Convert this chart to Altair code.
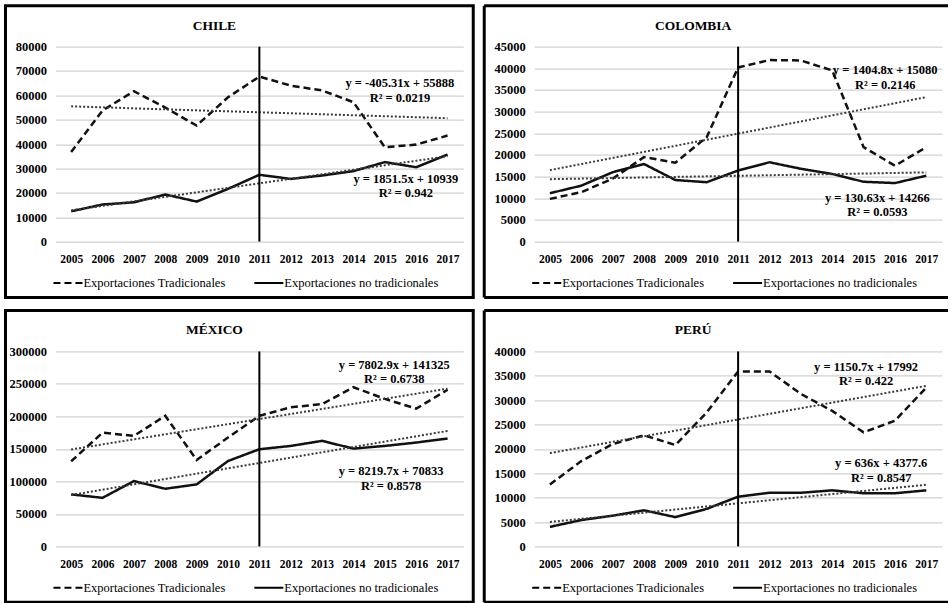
import altair as alt
import pandas as pd

# ---- data -----------------------------------------------------------------
YEARS = [2005, 2006, 2007, 2008, 2009, 2010, 2011, 2012, 2013, 2014, 2015, 2016, 2017]
SERIES = ["Exportaciones Tradicionales", "Exportaciones no tradicionales"]
MARK_YEAR = 2011

CHILE_TRAD = [36700, 53800, 61700, 55000, 47600, 59200, 67700, 64000, 62000, 57200, 38700, 39800, 43500]
CHILE_NOTRAD = [12400, 15200, 16100, 19300, 16400, 21600, 27400, 25700, 27100, 28900, 32600, 30500, 35700]

COLOMBIA_TRAD = [9850, 11400, 14500, 19500, 18200, 24100, 40200, 41900, 41800, 39500, 21800, 17500, 21800]
COLOMBIA_NOTRAD = [11150, 12900, 16000, 17900, 14200, 13700, 16400, 18300, 16800, 15600, 13800, 13500, 15200]

MEXICO_TRAD = [131000, 175000, 170000, 201000, 133000, 167500, 201000, 214000, 219000, 245000, 227000, 212000, 241000]
MEXICO_NOTRAD = [80000, 74700, 100500, 88700, 95400, 131400, 149500, 154600, 162400, 150500, 154600, 159800, 166000]

PERU_TRAD = [12700, 17500, 21000, 22800, 20800, 27500, 35900, 35900, 31300, 27800, 23400, 25800, 32600]
PERU_NOTRAD = [4000, 5400, 6300, 7400, 6000, 7700, 10200, 11000, 11000, 11500, 10900, 10900, 11500]

# linear trends, x = 1 (2005) ... 13 (2017): slope, intercept, R²
CHILE_FITS = [(-405.31, 55888, 0.0219), (1851.5, 10939, 0.942)]
COLOMBIA_FITS = [(1404.8, 15080, 0.2146), (130.63, 14266, 0.0593)]
MEXICO_FITS = [(7802.9, 141325, 0.6738), (8219.7, 70833, 0.8578)]
PERU_FITS = [(1150.7, 17992, 0.422), (636, 4377.6, 0.8547)]

# where each trend equation is written (year, value)
CHILE_LABELS = [(2015.48, 64900), (2015.67, 25700)]
COLOMBIA_LABELS = [(2015.69, 39500), (2015.44, 10100)]
MEXICO_LABELS = [(2015.3, 279900), (2015.2, 116000)]
PERU_LABELS = [(2015.08, 36900), (2015.56, 17100)]

# ---- layout / style --------------------------------------------------------
W, H = 408, 195
FRAME_L, FRAME_R, FRAME_T, FRAME_B = -50, 10, -41, 56
SERIF = "Liberation Serif"
INK = "#111111"
GRID = "#d2d2d2"


def frame_layers(open_right):
    """Black box drawn around a whole panel (axes, title and legend included)."""
    one = pd.DataFrame({"k": [0]})
    if not open_right:
        return [alt.Chart(one).mark_rect(filled=False, stroke="black", strokeWidth=3).encode(
            x=alt.value(FRAME_L), x2=alt.value(W + FRAME_R),
            y=alt.value(FRAME_T), y2=alt.value(H + FRAME_B))]
    right_end = W + 6
    rule = alt.Chart(one).mark_rule(color="black", strokeWidth=3)
    return [
        rule.encode(x=alt.value(FRAME_L), y=alt.value(FRAME_T), y2=alt.value(H + FRAME_B)),
        rule.encode(x=alt.value(FRAME_L), x2=alt.value(right_end), y=alt.value(FRAME_T)),
        rule.encode(x=alt.value(FRAME_L), x2=alt.value(right_end), y=alt.value(H + FRAME_B)),
    ]


def panel(name, trad, notrad, fits, labels, ymax, ystep, open_right=False):
    x_enc = alt.X(
        "year:Q",
        scale=alt.Scale(domain=[2004.5, 2017.5], nice=False, zero=False),
        axis=alt.Axis(values=YEARS, format="d", title=None, grid=False, domain=False,
                      ticks=False, tickSize=0, labelPadding=12, labelFont=SERIF,
                      labelFontSize=11.5, labelFontWeight="bold", labelColor="black",
                      labelFlush=False, labelOverlap=False),
    )
    y_enc = alt.Y(
        "valor:Q",
        scale=alt.Scale(domain=[0, ymax], nice=False, zero=True),
        axis=alt.Axis(values=list(range(0, ymax + 1, ystep)), format="d", title=None,
                      grid=True, gridColor=GRID, gridWidth=1.2, domain=False, ticks=False,
                      tickSize=0, labelPadding=9, labelFont=SERIF, labelFontSize=12.5,
                      labelFontWeight="bold", labelColor="black"),
    )

    lines = pd.DataFrame({
        "year": YEARS * 2,
        "valor": trad + notrad,
        "serie": [SERIES[0]] * len(YEARS) + [SERIES[1]] * len(YEARS),
    })
    series = alt.Chart(lines).mark_line(color=INK, strokeWidth=2.5).encode(
        x=x_enc,
        y=y_enc,
        strokeDash=alt.StrokeDash(
            "serie:N",
            scale=alt.Scale(domain=SERIES, range=[[7, 4], [1, 0]]),
            legend=alt.Legend(title=None, orient="none", legendX=-3, legendY=221,
                              direction="horizontal", symbolType="stroke", symbolSize=841,
                              symbolStrokeWidth=2, symbolStrokeColor="black",
                              labelFont=SERIF, labelFontSize=12.5, labelColor="black",
                              labelOffset=0, columnPadding=24, padding=0),
        ),
    )

    trend_rows = []
    for (slope, intercept, _), serie in zip(fits, SERIES):
        for i in (0, len(YEARS) - 1):
            trend_rows.append({"year": YEARS[i], "valor": slope * (i + 1) + intercept, "serie": serie})
    trend = alt.Chart(pd.DataFrame(trend_rows)).mark_line(
        color="#3a3a3a", strokeWidth=2, strokeDash=[2, 2]
    ).encode(x=x_enc, y=y_enc, detail="serie:N")

    marker = alt.Chart(pd.DataFrame({"year": [MARK_YEAR], "valor": [ymax], "base": [0]})).mark_rule(
        color="black", strokeWidth=2
    ).encode(x=x_enc, y=y_enc, y2="base:Q")

    lab = pd.DataFrame({
        "year": [p[0] for p in labels],
        "valor": [p[1] for p in labels],
        "eq": [f"y = {a:g}x + {b:g}" for a, b, _ in fits],
        "r2": [f"R² = {r:g}" for _, _, r in fits],
    })
    text_style = dict(font=SERIF, fontSize=12.5, fontWeight="bold", color="black",
                      align="center", baseline="middle")
    eq = alt.Chart(lab).mark_text(**text_style).encode(x=x_enc, y=y_enc, text="eq:N")
    r2 = alt.Chart(lab).mark_text(dy=14.5, **text_style).encode(x=x_enc, y=y_enc, text="r2:N")

    head = alt.Chart(pd.DataFrame({"t": [name]})).mark_text(
        font=SERIF, fontSize=13.5, fontWeight="bold", color="black",
        align="center", baseline="middle",
    ).encode(x=alt.value((2 * FRAME_L + W + FRAME_R) / 2), y=alt.value(-21), text="t:N")

    return alt.layer(*frame_layers(open_right), series, trend, marker, eq, r2, head).properties(
        width=W, height=H
    )


chile = panel("CHILE", CHILE_TRAD, CHILE_NOTRAD, CHILE_FITS, CHILE_LABELS, 80000, 10000)
colombia = panel("COLOMBIA", COLOMBIA_TRAD, COLOMBIA_NOTRAD, COLOMBIA_FITS, COLOMBIA_LABELS,
                 45000, 5000, open_right=True)
mexico = panel("MÉXICO", MEXICO_TRAD, MEXICO_NOTRAD, MEXICO_FITS, MEXICO_LABELS, 300000, 50000)
peru = panel("PERÚ", PERU_TRAD, PERU_NOTRAD, PERU_FITS, PERU_LABELS, 40000, 5000, open_right=True)


def row(a, b):
    return alt.hconcat(a, b, spacing=7).resolve_scale(
        x="independent", y="independent", strokeDash="independent"
    ).resolve_legend(strokeDash="independent")


chart = alt.vconcat(row(chile, colombia), row(mexico, peru), spacing=9).resolve_scale(
    x="independent", y="independent", strokeDash="independent"
).resolve_legend(strokeDash="independent").properties(
    padding={"left": 3.5, "top": 3.5, "right": 0, "bottom": 0},
    background="white",
).configure_view(strokeWidth=0)

chart.save("out.html", embed_options={"renderer": "svg", "actions": False})
